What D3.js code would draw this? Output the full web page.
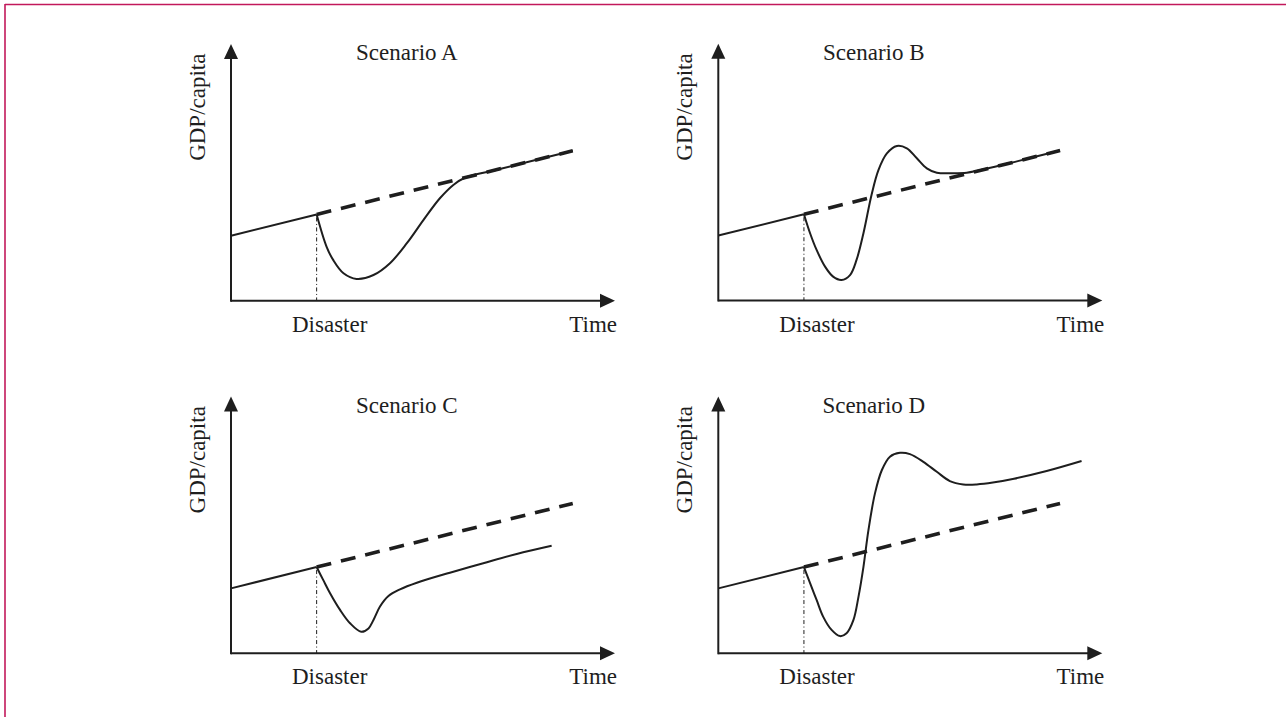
<!DOCTYPE html>
<html>
<head>
<meta charset="utf-8">
<script src="https://cdn.jsdelivr.net/npm/d3@7"></script>
<style>
  html, body { margin: 0; padding: 0; background: #ffffff; }
  svg { display: block; }
</style>
</head>
<body>
<svg id="chart" width="1286" height="717"></svg>
<script>
// ---------- data ----------
const panelNames = ["Scenario A", "Scenario B", "Scenario C", "Scenario D"];
const xLabels = ["Disaster", "Time"];
const yLabel = "GDP/capita";

// counterfactual trend (time, GDP) : start, disaster, end
const trendT = [0, 22.3, 89];
const trendV = [25.3, 33.6, 58.4];

// post-disaster actual paths
const pathA_T = [22.3, 24.9, 26.6, 29.3, 32.7, 37.1, 41.4, 45.8, 50.1, 54.4, 57.9, 60.9, 70, 89];
const pathA_V = [33.6, 21.0, 15.9, 10.7, 8.5, 10.0, 14.6, 22.4, 31.4, 39.9, 45.1, 47.9, 51.3, 58.4];

const pathB_T = [22.3, 23.9, 25.6, 27.8, 29.9, 32.1, 34.3, 36.0, 37.8, 39.9, 41.7, 43.9, 46.5, 49.1, 51.7, 54.3, 56.9, 61.2, 64.7, 67.3, 78, 89];
const pathB_V = [33.6, 26.2, 19.7, 13.2, 9.3, 8.0, 9.9, 15.8, 26.2, 41.1, 50.8, 57.3, 60.2, 59.3, 55.4, 51.5, 49.8, 49.6, 49.8, 50.5, 54.3, 58.4];

const pathC_T = [22.3, 24.0, 25.8, 28.4, 31.0, 33.9, 35.8, 37.1, 38.8, 41.0, 44.0, 48.4, 57.0, 65.7, 74.4, 83.5];
const pathC_V = [33.6, 28.6, 23.4, 16.9, 11.7, 8.4, 9.7, 13.0, 18.2, 22.3, 24.9, 27.5, 31.4, 35.1, 38.7, 41.9];

const pathD_T = [22.3, 23.9, 25.6, 27.3, 29.5, 31.7, 33.4, 35.2, 36.5, 37.8, 39.1, 40.8, 42.6, 44.7, 47.3, 49.9, 53.4, 56.9, 60.3, 63.8, 67.3, 71.5, 77, 85.5, 94.6];
const pathD_V = [33.6, 27.3, 20.8, 14.3, 9.1, 6.7, 7.8, 13.0, 22.0, 33.7, 48.0, 62.3, 71.4, 76.6, 78.1, 77.6, 74.6, 70.7, 67.1, 65.8, 65.8, 66.5, 68.0, 71.0, 74.9];

// ---------- layout ----------
const svg = d3.select("#chart");
const ink = "#1e1e1e";
const serif = "'Liberation Serif', 'DejaVu Serif', serif";

// page border (top + left rule)
svg.append("line").attr("x1", 5).attr("y1", 4.5).attr("x2", 1286).attr("y2", 4.5)
  .attr("stroke", "#c2185b").attr("stroke-width", 1.6);
svg.append("line").attr("x1", 5).attr("y1", 4).attr("x2", 5).attr("y2", 717)
  .attr("stroke", "#c2185b").attr("stroke-width", 1.6);

const panels = [
  { ox: 231,   oy: 300.7, T: pathA_T, V: pathA_V, titleT: 45.8 },
  { ox: 718.3, oy: 300.5, T: pathB_T, V: pathB_V, titleT: 40.5 },
  { ox: 231,   oy: 653.3, T: pathC_T, V: pathC_V, titleT: 45.8 },
  { ox: 718.3, oy: 653.3, T: pathD_T, V: pathD_V, titleT: 40.5 }
];
const W = 384, H = 256.7;

panels.forEach((p, i) => {
  const x = d3.scaleLinear().domain([0, 100]).range([p.ox, p.ox + W]);
  const y = d3.scaleLinear().domain([0, 100]).range([p.oy, p.oy - H]);
  const g = svg.append("g");

  // axes (bare arrows)
  g.append("line").attr("x1", x(0)).attr("y1", y(0)).attr("x2", x(100) - 8).attr("y2", y(0))
    .attr("stroke", ink).attr("stroke-width", 2);
  g.append("line").attr("x1", x(0)).attr("y1", y(0) + 1).attr("x2", x(0)).attr("y2", y(100) + 8)
    .attr("stroke", ink).attr("stroke-width", 2);
  g.append("path")
    .attr("d", `M${x(100)},${y(0)} L${x(100) - 15},${y(0) - 7} L${x(100) - 15},${y(0) + 7} Z`)
    .attr("fill", ink);
  g.append("path")
    .attr("d", `M${x(0)},${y(100)} L${x(0) - 7},${y(100) + 15} L${x(0) + 7},${y(100) + 15} Z`)
    .attr("fill", ink);

  // disaster marker (dash-dot)
  g.append("line")
    .attr("x1", x(trendT[1])).attr("y1", y(trendV[1]) + 3)
    .attr("x2", x(trendT[1])).attr("y2", y(0))
    .attr("stroke", ink).attr("stroke-width", 1)
    .attr("stroke-dasharray", "4,2.5,1,2.5");

  const lin = d3.line().x(d => x(d[0])).y(d => y(d[1]));
  const smooth = d3.line().x(d => x(d[0])).y(d => y(d[1])).curve(d3.curveCatmullRom.alpha(0.5));

  // counterfactual dashed trend
  g.append("path")
    .attr("d", lin([[trendT[1], trendV[1]], [trendT[2], trendV[2]]]))
    .attr("fill", "none").attr("stroke", ink).attr("stroke-width", 3.6)
    .attr("stroke-dasharray", "15,10");

  // pre-disaster
  g.append("path")
    .attr("d", lin([[trendT[0], trendV[0]], [trendT[1], trendV[1]]]))
    .attr("fill", "none").attr("stroke", ink).attr("stroke-width", 2);

  // post-disaster actual path
  const pts = p.T.map((t, k) => [t, p.V[k]]);
  g.append("path")
    .attr("d", smooth(pts))
    .attr("fill", "none").attr("stroke", ink).attr("stroke-width", 2)
    .attr("stroke-linejoin", "round");

  // texts
  const txt = (sel) => sel.attr("font-family", serif).attr("font-size", 23).attr("fill", ink);
  txt(g.append("text").attr("x", x(p.titleT)).attr("y", p.oy - 240.7)
    .attr("text-anchor", "middle").text(panelNames[i]));
  txt(g.append("text").attr("x", x(25.7)).attr("y", p.oy + 31)
    .attr("text-anchor", "middle").text(xLabels[0]));
  txt(g.append("text").attr("x", p.ox + 386).attr("y", p.oy + 31)
    .attr("text-anchor", "end").text(xLabels[1]));
  txt(g.append("text")
    .attr("transform", `translate(${p.ox - 26},${p.oy - 193.5}) rotate(-90)`)
    .attr("text-anchor", "middle").text(yLabel));
});
</script>
</body>
</html>
